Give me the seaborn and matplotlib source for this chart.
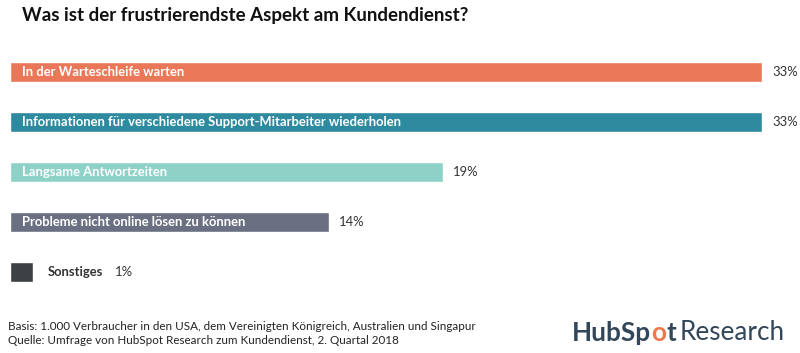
import pandas as pd
import matplotlib.pyplot as plt
import seaborn as sns

# Chart data
categories = [
    'In der Warteschleife warten',
    'Informationen für verschiedene Support-Mitarbeiter wiederholen',
    'Langsame Antwortzeiten',
    'Probleme nicht online lösen zu können',
    'Sonstiges',
]
values = [33, 33, 19, 14, 1]
colors = ['#EA7858', '#2E8A9E', '#8DD1C7', '#6A7082', '#3D4144']
inside = [True, True, True, True, False]

df = pd.DataFrame({'category': categories, 'value': values})

sns.set_theme(style='white')
plt.rcParams['font.family'] = ['Lato', 'DejaVu Sans']

fig = plt.figure(figsize=(8, 3.53), dpi=100)
ax = fig.add_axes([10 / 800, 1 - 297 / 353, 780 / 800, 250 / 353])

sns.barplot(data=df, x='value', y='category', hue='category', palette=colors,
            orient='h', width=0.4, legend=False, ax=ax, saturation=1)

ax.set_xlim(0, 780 / 22.8)
ax.set_ylim(4.5, -0.5)
ax.axis('off')

px = ax.get_xlim()[1] / 780  # data units per pixel
for i, (cat, val, inn) in enumerate(zip(categories, values, inside)):
    if inn:
        ax.text(12 * px, i, cat, color='white', fontweight='bold', fontsize=9.4,
                va='center', ha='left')
        ax.text(val + 10 * px, i, f'{val}%', color='#333333', fontsize=9.4,
                va='center', ha='left')
    else:
        ax.text(val + 15 * px, i, cat, color='#333333', fontweight='bold',
                fontsize=9.4, va='center', ha='left')
        ax.text(val + 82 * px, i, f'{val}%', color='#333333', fontsize=9.4,
                va='center', ha='left')

fig.text(22 / 800, 1 - 15 / 353, 'Was ist der frustrierendste Aspekt am Kundendienst?',
         fontsize=13.5, fontweight='bold', color='#111111', va='center', ha='left')

fig.text(8 / 800, 1 - 326 / 353,
         'Basis: 1.000 Verbraucher in den USA, dem Vereinigten Königreich, Australien und Singapur',
         fontsize=8.4, color='#222222', va='center', ha='left')
fig.text(8 / 800, 1 - 340 / 353,
         'Quelle: Umfrage von HubSpot Research zum Kundendienst, 2. Quartal 2018',
         fontsize=8.4, color='#222222', va='center', ha='left')

# logo as text
logo_y = 1 - 333 / 353
t1 = fig.text(572 / 800, logo_y, 'HubSp', fontsize=18.8, fontweight='bold',
              color='#33475B', va='center', ha='left')
fig.canvas.draw()
r = fig.canvas.get_renderer()
x = t1.get_window_extent(r).x1 / 800
t2 = fig.text(x, logo_y, 'o', fontsize=18.8, fontweight='bold', color='#F0774A',
              va='center', ha='left')
x = t2.get_window_extent(r).x1 / 800
t3 = fig.text(x, logo_y, 't', fontsize=18.8, fontweight='bold', color='#33475B',
              va='center', ha='left')
x = t3.get_window_extent(r).x1 / 800
fig.text(x + 4 / 800, logo_y, 'Research', fontsize=18.8, color='#33475B',
         va='center', ha='left')

fig.savefig('out.png', dpi=100)
